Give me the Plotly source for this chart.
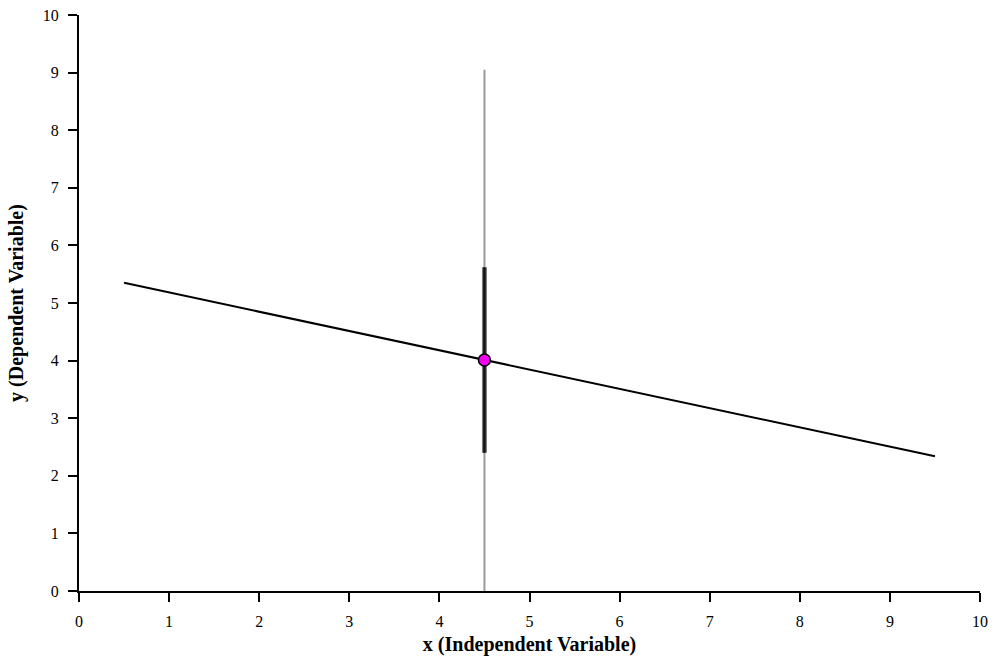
import plotly.graph_objects as go

# Data
line_x = [0.5, 9.5]
line_y = [5.35, 2.34]
point_x = [4.5]
point_y = [4.01]
pred_interval = [0.0, 9.05]
conf_interval = [2.40, 5.62]
tick_vals = list(range(0, 11))

fig = go.Figure()

# prediction interval (thin gray)
fig.add_trace(go.Scatter(x=[point_x[0], point_x[0]], y=pred_interval, mode="lines",
                         line=dict(color="#999999", width=2), showlegend=False, hoverinfo="skip"))
# confidence interval (thick dark with gray edge)
fig.add_trace(go.Scatter(x=[point_x[0], point_x[0]], y=conf_interval, mode="lines",
                         line=dict(color="#777777", width=5), showlegend=False, hoverinfo="skip"))
fig.add_trace(go.Scatter(x=[point_x[0], point_x[0]], y=conf_interval, mode="lines",
                         line=dict(color="#111111", width=2.5), showlegend=False, hoverinfo="skip"))
# regression line
fig.add_trace(go.Scatter(x=line_x, y=line_y, mode="lines",
                         line=dict(color="black", width=2), showlegend=False))
# point
fig.add_trace(go.Scatter(x=point_x, y=point_y, mode="markers",
                         marker=dict(color="#ee00ee", size=12, line=dict(color="black", width=1.5)),
                         showlegend=False))

axis_common = dict(
    range=[0, 10], tickvals=tick_vals, ticktext=[str(v) for v in tick_vals],
    showgrid=False, zeroline=False, showline=True, linecolor="black", linewidth=2,
    ticks="outside", ticklen=9, tickwidth=2, tickcolor="black",
    tickfont=dict(family="Liberation Serif", size=16, color="black"),
    automargin=False,
)

fig.update_layout(
    width=993, height=656,
    margin=dict(l=79, r=13, t=15, b=65),
    plot_bgcolor="white", paper_bgcolor="white",
    xaxis=dict(**axis_common, ticklabelstandoff=6,
               title=dict(text="<b>x (Independent Variable)</b>",
                          font=dict(family="Liberation Serif", size=20, color="black"),
                          standoff=8)),
    yaxis=dict(**axis_common, ticklabelstandoff=6,
               title=dict(text="<b>y (Dependent Variable)</b>",
                          font=dict(family="Liberation Serif", size=20, color="black"),
                          standoff=14)),
)

fig.write_html("out.html", config={"displayModeBar": False},
               post_script="document.body.style.margin='0';document.body.style.overflow='hidden';")
